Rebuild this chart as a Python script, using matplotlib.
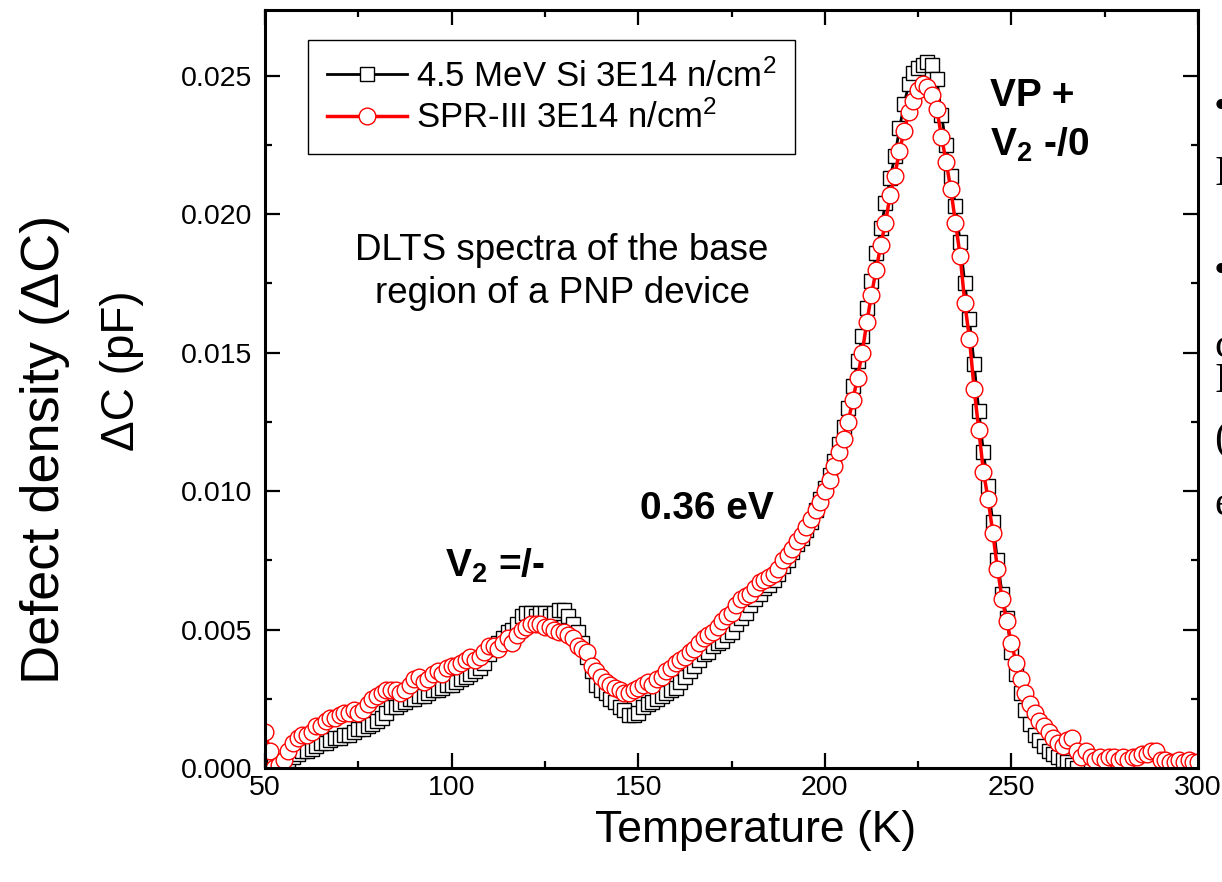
import numpy as np
import matplotlib
matplotlib.use("Agg")
import matplotlib.pyplot as plt
from matplotlib.ticker import MultipleLocator, FormatStrFormatter

plt.rcParams["font.family"] = ["Liberation Sans", "DejaVu Sans"]
plt.rcParams["mathtext.default"] = "regular"

# temperature grid of the DLTS scan (K)
temperature = np.arange(50, 300.01, 1.25)

# 4.5 MeV Si, 3E14 n/cm^2  (delta C in pF)
dc_si = [
    0.0001, 0.0000, 0.0001, 0.0002, 0.0002, 0.0003, 0.0004, 0.0005,
    0.0006, 0.0006, 0.0007, 0.0008, 0.0009, 0.0009, 0.0010, 0.0011,
    0.0011, 0.0012, 0.0012, 0.0013, 0.0014, 0.0014, 0.0015, 0.0016,
    0.0017, 0.0018, 0.0020, 0.0022, 0.0022, 0.0023, 0.0024, 0.0025,
    0.0025, 0.0026, 0.0026, 0.0027, 0.0028, 0.0028, 0.0029, 0.0030,
    0.0030, 0.0031, 0.0032, 0.0033, 0.0034, 0.0035, 0.0036, 0.0038,
    0.0041, 0.0043, 0.0045, 0.0047, 0.0049, 0.0050, 0.0052, 0.0055,
    0.0056, 0.0056, 0.0055, 0.0056, 0.0056, 0.0055, 0.0056, 0.0057,
    0.0057, 0.0055, 0.0052, 0.0049, 0.0045, 0.0040, 0.0035, 0.0030,
    0.0028, 0.0027, 0.0025, 0.0024, 0.0022, 0.0021, 0.0019, 0.0019,
    0.0020, 0.0022, 0.0023, 0.0024, 0.0025, 0.0026, 0.0027, 0.0028,
    0.0029, 0.0031, 0.0033, 0.0035, 0.0037, 0.0039, 0.0041, 0.0042,
    0.0044, 0.0045, 0.0046, 0.0048, 0.0049, 0.0052, 0.0054, 0.0056,
    0.0059, 0.0061, 0.0063, 0.0065, 0.0066, 0.0068, 0.0070, 0.0073,
    0.0075, 0.0078, 0.0081, 0.0083, 0.0086, 0.0089, 0.0093, 0.0097,
    0.0101, 0.0106, 0.0111, 0.0117, 0.0123, 0.0130, 0.0138, 0.0147,
    0.0156, 0.0166, 0.0176, 0.0186, 0.0195, 0.0204, 0.0213, 0.0221,
    0.0231, 0.0240, 0.0247, 0.0251, 0.0253, 0.0254, 0.0255, 0.0254,
    0.0249, 0.0236, 0.0225, 0.0214, 0.0203, 0.0190, 0.0175, 0.0162,
    0.0146, 0.0129, 0.0114, 0.0102, 0.0089, 0.0075, 0.0063, 0.0054,
    0.0042, 0.0034, 0.0027, 0.0021, 0.0016, 0.0012, 0.0010, 0.0008,
    0.0006, 0.0005, 0.0004, 0.0003, 0.0002, 0.0001, 0.0000,
]

# SPR-III reactor, 3E14 n/cm^2  (delta C in pF)
dc_spr = [
    0.0013, 0.0006, 0.0000, 0.0001, 0.0003, 0.0006, 0.0009, 0.0011,
    0.0012, 0.0012, 0.0013, 0.0015, 0.0015, 0.0017, 0.0018, 0.0018,
    0.0019, 0.0020, 0.0020, 0.0021, 0.0020, 0.0021, 0.0023, 0.0025,
    0.0026, 0.0027, 0.0028, 0.0028, 0.0028, 0.0027, 0.0028, 0.0030,
    0.0032, 0.0033, 0.0031, 0.0032, 0.0034, 0.0035, 0.0034, 0.0036,
    0.0037, 0.0037, 0.0038, 0.0039, 0.0040, 0.0039, 0.0040, 0.0042,
    0.0044, 0.0044, 0.0043, 0.0045, 0.0047, 0.0045, 0.0048, 0.0050,
    0.0051, 0.0052, 0.0052, 0.0052, 0.0051, 0.0051, 0.0050, 0.0049,
    0.0049, 0.0048, 0.0047, 0.0044, 0.0043, 0.0042, 0.0037, 0.0035,
    0.0033, 0.0031, 0.0030, 0.0029, 0.0028, 0.0027, 0.0027, 0.0028,
    0.0029, 0.0030, 0.0031, 0.0030, 0.0032, 0.0033, 0.0035, 0.0036,
    0.0038, 0.0039, 0.0040, 0.0042, 0.0043, 0.0045, 0.0047, 0.0048,
    0.0049, 0.0051, 0.0053, 0.0055, 0.0056, 0.0059, 0.0061, 0.0062,
    0.0063, 0.0065, 0.0067, 0.0068, 0.0069, 0.0070, 0.0072, 0.0075,
    0.0077, 0.0079, 0.0082, 0.0084, 0.0087, 0.0090, 0.0093, 0.0096,
    0.0100, 0.0104, 0.0109, 0.0114, 0.0119, 0.0125, 0.0133, 0.0141,
    0.0150, 0.0161, 0.0171, 0.0180, 0.0189, 0.0197, 0.0207, 0.0214,
    0.0223, 0.0230, 0.0237, 0.0241, 0.0245, 0.0247, 0.0246, 0.0243,
    0.0238, 0.0228, 0.0219, 0.0209, 0.0197, 0.0185, 0.0168, 0.0155,
    0.0137, 0.0122, 0.0107, 0.0097, 0.0085, 0.0072, 0.0061, 0.0053,
    0.0045, 0.0038, 0.0032, 0.0027, 0.0023, 0.0020, 0.0017, 0.0015,
    0.0013, 0.0011, 0.0009, 0.0008, 0.0010, 0.0011, 0.0006, 0.0004,
    0.0006, 0.0004, 0.0003, 0.0004, 0.0003, 0.0004, 0.0004, 0.0003,
    0.0004, 0.0003, 0.0004, 0.0004, 0.0005, 0.0005, 0.0006, 0.0006,
    0.0003, 0.0003, 0.0002, 0.0002, 0.0003, 0.0002, 0.0003, 0.0002,
    0.0002,
]

labels = ["4.5 MeV Si 3E14 n/cm$^2$", "SPR-III 3E14 n/cm$^2$"]

fig = plt.figure(figsize=(12.22, 8.82), dpi=100)
ax = fig.add_axes([0.2169, 0.1293, 0.7635, 0.8594])

ax.plot(temperature[:len(dc_si)], dc_si, color="black", lw=2.0,
        marker="s", ms=10.5, mfc="white", mec="black", mew=1.0,
        label=labels[0])
ax.plot(temperature[:len(dc_spr)], dc_spr, color="red", lw=2.5,
        marker="o", ms=12, mfc="white", mec="red", mew=1.0,
        label=labels[1])

ax.set_xlim(50, 300)
ax.set_ylim(0, 0.02738)
ax.xaxis.set_major_locator(MultipleLocator(50))
ax.xaxis.set_minor_locator(MultipleLocator(25))
ax.yaxis.set_major_locator(MultipleLocator(0.005))
ax.yaxis.set_minor_locator(MultipleLocator(0.0025))
ax.yaxis.set_major_formatter(FormatStrFormatter("%.3f"))

ax.tick_params(which="both", direction="in", top=True, right=True,
               width=1.6, labelsize=20.5)
ax.tick_params(which="major", length=10.5)
ax.tick_params(which="minor", length=5)
ax.tick_params(axis="y", pad=9)
ax.tick_params(axis="x", pad=5)
for sp in ax.spines.values():
    sp.set_linewidth(2.2)

leg = ax.legend(loc="upper left", bbox_to_anchor=(0.046, 0.9604),
                borderaxespad=0, fontsize=25, numpoints=1,
                handlelength=2.3, handletextpad=0.25, labelspacing=0.2,
                borderpad=0.55, fancybox=False, framealpha=1)
leg.get_frame().set_edgecolor("black")
leg.get_frame().set_linewidth(1.0)

ax.text(129.6, 0.0179, "DLTS spectra of the base\nregion of a PNP device",
        ha="center", va="center", fontsize=26.5, linespacing=1.3)
ax.text(98.2, 0.0069, "V$_2$ =/-", fontsize=28, fontweight="bold")
ax.text(150.5, 0.0090, "0.36 eV", fontsize=28, fontweight="bold")
ax.text(244.3, 0.0239, "VP +", fontsize=28, fontweight="bold")
ax.text(244.3, 0.0221, "V$_2$ -/0", fontsize=28, fontweight="bold")

fig.text(0.618, 0.058, "Temperature (K)", ha="center", va="center",
         fontsize=32)
fig.text(0.037, 0.49, "Defect density (\u0394C)", rotation=90,
         ha="center", va="center", fontsize=39)
fig.text(0.1, 0.58, "\u0394C (pF)", rotation=90, ha="center", va="center",
         fontsize=33)

# edge of the neighbouring slide text, cut off by the frame
side = [(108, "\u2022"), (175, "I"), (272, "\u2022"), (347, "c"),
        (382, "I"), (440, "("), (505, "e")]
for ypx, s in side:
    fig.text(1214 / 1222, 1 - ypx / 882, s, ha="left", va="center",
             fontsize=30, family="Liberation Serif")

fig.savefig("out.png", dpi=100)
